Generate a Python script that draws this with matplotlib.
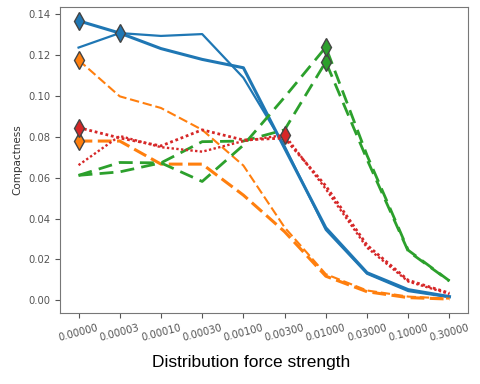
import matplotlib.pyplot as plt
import numpy as np

# force strength categories (x axis)
strengths = ["0.00000", "0.00003", "0.00010", "0.00030", "0.00100",
             "0.00300", "0.01000", "0.03000", "0.10000", "0.30000"]

# compactness values, two runs per colour
blue_a = [0.1369, 0.1309, 0.1233, 0.1180, 0.1139, 0.0745, 0.0355, 0.0135, 0.0052, 0.0018]
blue_b = [0.1238, 0.1309, 0.1295, 0.1304, 0.1090, 0.0755, 0.0345, 0.0130, 0.0045, 0.0015]
orange_c = [0.1177, 0.0999, 0.0942, 0.0835, 0.0660, 0.0357, 0.0128, 0.0048, 0.0018, 0.0008]
orange_d = [0.0780, 0.0780, 0.0667, 0.0667, 0.0515, 0.0336, 0.0118, 0.0042, 0.0013, 0.0006]
green_e = [0.0612, 0.0629, 0.0673, 0.0777, 0.0780, 0.0835, 0.1168, 0.0690, 0.0240, 0.0094]
green_f = [0.0612, 0.0675, 0.0673, 0.0582, 0.0760, 0.0995, 0.1240, 0.0710, 0.0245, 0.0095]
red_g = [0.0846, 0.0795, 0.0756, 0.0835, 0.0785, 0.0795, 0.0560, 0.0270, 0.0098, 0.0035]
red_h = [0.0662, 0.0805, 0.0750, 0.0728, 0.0780, 0.0810, 0.0545, 0.0258, 0.0092, 0.0031]

runs = [
    (blue_a, "#1f77b4", "-", 2.2),
    (blue_b, "#1f77b4", "-", 1.6),
    (orange_c, "#ff7f0e", (0, (4.5, 1.8)), 1.5),
    (orange_d, "#ff7f0e", (0, (4.5, 1.8)), 2.2),
    (green_e, "#2ca02c", (0, (5, 2.6)), 2.0),
    (green_f, "#2ca02c", (0, (5, 2.6)), 2.0),
    (red_g, "#d62728", (0, (1, 1)), 2.0),
    (red_h, "#d62728", (0, (1, 1)), 1.7),
]

fig = plt.figure(figsize=(4.8, 3.84), dpi=100)
ax = fig.add_axes([0.125, 0.185, 0.85, 0.797])

x = np.arange(len(strengths))
for vals, col, ls, lw in runs:
    ax.plot(x, vals, color=col, linestyle=ls, linewidth=lw, zorder=2)

# diamond at the peak of every run
for vals, col, ls, lw in runs:
    i = int(np.argmax(vals))
    ax.plot(x[i], vals[i], marker="d", markersize=9, color=col,
            markeredgecolor="#444444", markeredgewidth=1.0, zorder=3)

ax.set_xticks(x)
ax.set_xticklabels(strengths, rotation=15, fontsize=7.2, color="#333333")
ax.tick_params(axis="y", labelsize=7.2, labelcolor="#333333")
ax.tick_params(colors="#555555", length=3.5)
ax.set_yticks([0.0, 0.02, 0.04, 0.06, 0.08, 0.10, 0.12, 0.14])
ax.set_ylabel("Compactness", fontsize=7.5, color="#333333")
for sp in ax.spines.values():
    sp.set_color("#777777")

fig.text(251 / 480, 1 - 363 / 384, "Distribution force strength",
         family="Liberation Sans", fontsize=12.5, ha="center", va="center")

plt.savefig("out.png", dpi=100)
